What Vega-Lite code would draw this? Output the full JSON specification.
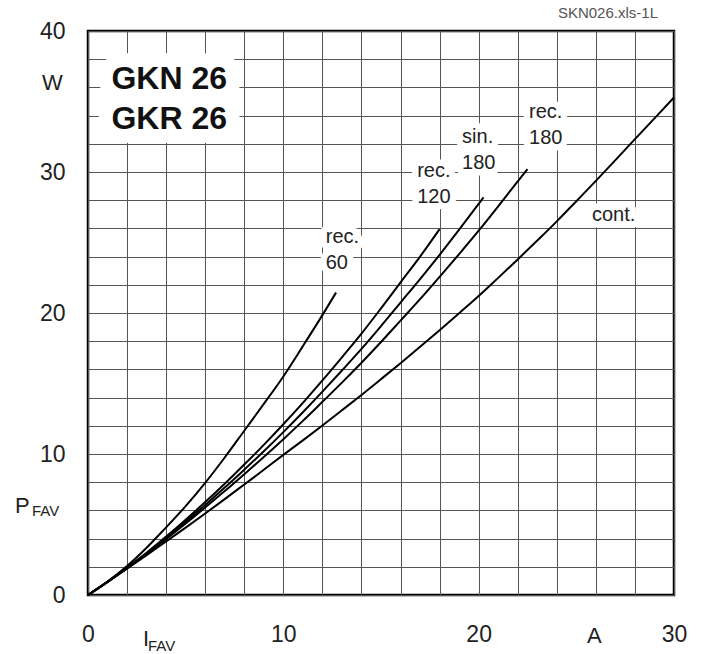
{
  "$schema": "https://vega.github.io/schema/vega-lite/v6.json",
  "width": 586,
  "height": 564,
  "autosize": {"type": "none"},
  "padding": {"left": 88, "top": 31, "right": 32, "bottom": 59},
  "background": "white",
  "config": {
    "font": "Liberation Sans",
    "view": {"stroke": "#000", "strokeWidth": 2.5},
    "axis": {"gridColor": "#555", "gridWidth": 1, "gridOpacity": 1, "ticks": false, "tickSize": 0, "domain": false, "labelColor": "#222", "labelFontSize": 23, "labelFlush": false, "labelOverlap": false, "title": null}
  },
  "datasets": {
    "curves": [
      {"curve": "cont.", "I": 0, "P": 0}, {"curve": "cont.", "I": 1, "P": 0.92}, {"curve": "cont.", "I": 2, "P": 1.86}, {"curve": "cont.", "I": 3, "P": 2.82}, {"curve": "cont.", "I": 4, "P": 3.8}, {"curve": "cont.", "I": 5, "P": 4.78}, {"curve": "cont.", "I": 6, "P": 5.78}, {"curve": "cont.", "I": 7, "P": 6.8}, {"curve": "cont.", "I": 8, "P": 7.84}, {"curve": "cont.", "I": 9, "P": 8.88}, {"curve": "cont.", "I": 10, "P": 9.94}, {"curve": "cont.", "I": 11, "P": 10.97}, {"curve": "cont.", "I": 12, "P": 12.02}, {"curve": "cont.", "I": 13, "P": 13.1}, {"curve": "cont.", "I": 14, "P": 14.19}, {"curve": "cont.", "I": 15, "P": 15.31}, {"curve": "cont.", "I": 16, "P": 16.44}, {"curve": "cont.", "I": 17, "P": 17.6}, {"curve": "cont.", "I": 18, "P": 18.78}, {"curve": "cont.", "I": 19, "P": 19.98}, {"curve": "cont.", "I": 20, "P": 21.2}, {"curve": "cont.", "I": 21, "P": 22.49}, {"curve": "cont.", "I": 22, "P": 23.8}, {"curve": "cont.", "I": 23, "P": 25.14}, {"curve": "cont.", "I": 24, "P": 26.5}, {"curve": "cont.", "I": 25, "P": 27.93}, {"curve": "cont.", "I": 26, "P": 29.37}, {"curve": "cont.", "I": 27, "P": 30.84}, {"curve": "cont.", "I": 28, "P": 32.33}, {"curve": "cont.", "I": 29, "P": 33.8}, {"curve": "cont.", "I": 30, "P": 35.28},
      {"curve": "rec.180", "I": 0, "P": 0}, {"curve": "rec.180", "I": 1, "P": 0.93}, {"curve": "rec.180", "I": 2, "P": 1.9}, {"curve": "rec.180", "I": 3, "P": 2.92}, {"curve": "rec.180", "I": 4, "P": 3.97}, {"curve": "rec.180", "I": 5, "P": 5.07}, {"curve": "rec.180", "I": 6, "P": 6.21}, {"curve": "rec.180", "I": 7, "P": 7.37}, {"curve": "rec.180", "I": 8, "P": 8.57}, {"curve": "rec.180", "I": 9, "P": 9.79}, {"curve": "rec.180", "I": 10, "P": 11.05}, {"curve": "rec.180", "I": 11, "P": 12.35}, {"curve": "rec.180", "I": 12, "P": 13.7}, {"curve": "rec.180", "I": 13, "P": 15.06}, {"curve": "rec.180", "I": 14, "P": 16.47}, {"curve": "rec.180", "I": 15, "P": 17.94}, {"curve": "rec.180", "I": 16, "P": 19.46}, {"curve": "rec.180", "I": 17, "P": 20.98}, {"curve": "rec.180", "I": 18, "P": 22.56}, {"curve": "rec.180", "I": 19, "P": 24.18}, {"curve": "rec.180", "I": 20, "P": 25.84}, {"curve": "rec.180", "I": 21, "P": 27.57}, {"curve": "rec.180", "I": 22, "P": 29.34}, {"curve": "rec.180", "I": 22.5, "P": 30.2},
      {"curve": "sin.180", "I": 0, "P": 0}, {"curve": "sin.180", "I": 1, "P": 0.93}, {"curve": "sin.180", "I": 2, "P": 1.92}, {"curve": "sin.180", "I": 3, "P": 2.96}, {"curve": "sin.180", "I": 4, "P": 4.05}, {"curve": "sin.180", "I": 5, "P": 5.2}, {"curve": "sin.180", "I": 6, "P": 6.39}, {"curve": "sin.180", "I": 7, "P": 7.62}, {"curve": "sin.180", "I": 8, "P": 8.89}, {"curve": "sin.180", "I": 9, "P": 10.19}, {"curve": "sin.180", "I": 10, "P": 11.55}, {"curve": "sin.180", "I": 11, "P": 12.96}, {"curve": "sin.180", "I": 12, "P": 14.42}, {"curve": "sin.180", "I": 13, "P": 15.92}, {"curve": "sin.180", "I": 14, "P": 17.45}, {"curve": "sin.180", "I": 15, "P": 19.07}, {"curve": "sin.180", "I": 16, "P": 20.74}, {"curve": "sin.180", "I": 17, "P": 22.41}, {"curve": "sin.180", "I": 18, "P": 24.13}, {"curve": "sin.180", "I": 19, "P": 25.91}, {"curve": "sin.180", "I": 20, "P": 27.74}, {"curve": "sin.180", "I": 20.25, "P": 28.2},
      {"curve": "rec.120", "I": 0, "P": 0}, {"curve": "rec.120", "I": 1, "P": 0.93}, {"curve": "rec.120", "I": 2, "P": 1.94}, {"curve": "rec.120", "I": 3, "P": 3.0}, {"curve": "rec.120", "I": 4, "P": 4.14}, {"curve": "rec.120", "I": 5, "P": 5.34}, {"curve": "rec.120", "I": 6, "P": 6.59}, {"curve": "rec.120", "I": 7, "P": 7.89}, {"curve": "rec.120", "I": 8, "P": 9.25}, {"curve": "rec.120", "I": 9, "P": 10.65}, {"curve": "rec.120", "I": 10, "P": 12.11}, {"curve": "rec.120", "I": 11, "P": 13.63}, {"curve": "rec.120", "I": 12, "P": 15.22}, {"curve": "rec.120", "I": 13, "P": 16.86}, {"curve": "rec.120", "I": 14, "P": 18.54}, {"curve": "rec.120", "I": 15, "P": 20.33}, {"curve": "rec.120", "I": 16, "P": 22.17}, {"curve": "rec.120", "I": 17, "P": 24.0}, {"curve": "rec.120", "I": 18, "P": 25.95},
      {"curve": "rec.60", "I": 0, "P": 0}, {"curve": "rec.60", "I": 1, "P": 0.95}, {"curve": "rec.60", "I": 2, "P": 2.05}, {"curve": "rec.60", "I": 3, "P": 3.35}, {"curve": "rec.60", "I": 4, "P": 4.8}, {"curve": "rec.60", "I": 5, "P": 6.3}, {"curve": "rec.60", "I": 6, "P": 7.95}, {"curve": "rec.60", "I": 7, "P": 9.75}, {"curve": "rec.60", "I": 8, "P": 11.65}, {"curve": "rec.60", "I": 9, "P": 13.55}, {"curve": "rec.60", "I": 10, "P": 15.5}, {"curve": "rec.60", "I": 11, "P": 17.65}, {"curve": "rec.60", "I": 12, "P": 19.85}, {"curve": "rec.60", "I": 12.7, "P": 21.45}
    ],
    "labels": [
      {"label": "rec.\n60", "I": 12.17, "P": 25.39},
      {"label": "rec.\n120", "I": 16.85, "P": 30.07},
      {"label": "sin.\n180", "I": 19.15, "P": 32.45},
      {"label": "rec.\n180", "I": 22.58, "P": 34.29},
      {"label": "cont.", "I": 25.8, "P": 26.95}
    ],
    "types": [
      {"label": "GKN 26\nGKR 26", "I": 1.2, "P": 36.63}
    ],
    "titles": [
      {"label": "W", "I": -2.36, "P": 36.28},
      {"label": "P", "I": -3.74, "P": 6.28},
      {"label": "I", "I": 2.82, "P": -3.12},
      {"label": "A", "I": 25.55, "P": -2.94}
    ],
    "subs": [
      {"label": "FAV", "I": -2.87, "P": 5.96},
      {"label": "FAV", "I": 3.07, "P": -3.65}
    ],
    "source": [
      {"label": "SKN026.xls-1L", "I": 29.18, "P": 41.3}
    ]
  },
  "encoding": {
    "x": {"field": "I", "type": "quantitative", "scale": {"domain": [0, 30], "nice": false}, "axis": {"values": [0, 2, 4, 6, 8, 10, 12, 14, 16, 18, 20, 22, 24, 26, 28, 30], "grid": true, "labelExpr": "datum.value % 10 === 0 ? datum.label : ''", "labelBaseline": "alphabetic", "labelPadding": 46, "labelAlign": "center"}},
    "y": {"field": "P", "type": "quantitative", "scale": {"domain": [0, 40], "nice": false}, "axis": {"values": [0, 2, 4, 6, 8, 10, 12, 14, 16, 18, 20, 22, 24, 26, 28, 30, 32, 34, 36, 38, 40], "grid": true, "labelExpr": "datum.value % 10 === 0 ? datum.label : ''", "labelAlign": "right", "labelBaseline": "middle", "labelPadding": 23}}
  },
  "layer": [
    {
      "data": {"name": "curves"},
      "mark": {"type": "line", "color": "#000", "strokeWidth": 2, "interpolate": "monotone"},
      "encoding": {"detail": {"field": "curve", "type": "nominal"}}
    },
    {
      "data": {"name": "labels"},
      "mark": {"type": "text", "align": "left", "baseline": "middle", "fontSize": 20, "lineHeight": 26, "lineBreak": "\n", "fill": "#fff", "stroke": "#fff", "strokeWidth": 13, "strokeJoin": "round"},
      "encoding": {"text": {"field": "label"}}
    },
    {
      "data": {"name": "labels"},
      "mark": {"type": "text", "align": "left", "baseline": "middle", "fontSize": 20, "lineHeight": 26, "lineBreak": "\n", "color": "#222"},
      "encoding": {"text": {"field": "label"}}
    },
    {
      "data": {"name": "types"},
      "mark": {"type": "text", "align": "left", "baseline": "middle", "fontSize": 32, "fontWeight": "bold", "lineHeight": 40.5, "lineBreak": "\n", "fill": "#fff", "stroke": "#fff", "strokeWidth": 28, "strokeJoin": "round"},
      "encoding": {"text": {"field": "label"}}
    },
    {
      "data": {"name": "types"},
      "mark": {"type": "text", "align": "left", "baseline": "middle", "fontSize": 32, "fontWeight": "bold", "lineHeight": 40.5, "lineBreak": "\n", "color": "#111"},
      "encoding": {"text": {"field": "label"}}
    },
    {
      "data": {"name": "titles"},
      "mark": {"type": "text", "align": "left", "baseline": "middle", "fontSize": 22, "color": "#222"},
      "encoding": {"text": {"field": "label"}}
    },
    {
      "data": {"name": "subs"},
      "mark": {"type": "text", "align": "left", "baseline": "middle", "fontSize": 15, "color": "#222"},
      "encoding": {"text": {"field": "label"}}
    },
    {
      "data": {"name": "source"},
      "mark": {"type": "text", "align": "right", "baseline": "middle", "fontSize": 15, "color": "#555"},
      "encoding": {"text": {"field": "label"}}
    }
  ]
}
